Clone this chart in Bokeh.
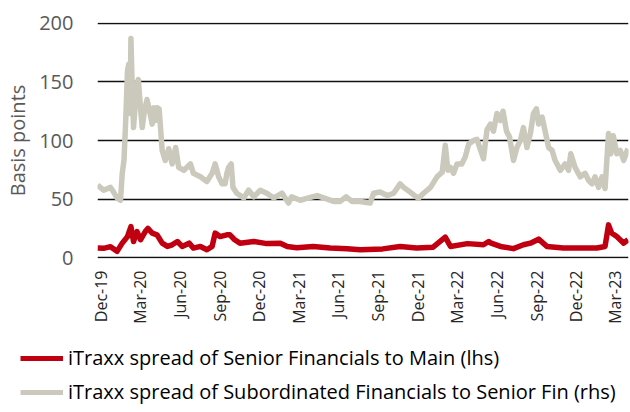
import pandas as pd
from bokeh.plotting import figure
from bokeh.layouts import column
from bokeh.models import Legend, LegendItem, FixedTicker, Range1d, DatetimeTickFormatter
from bokeh.embed import file_html
from bokeh.resources import INLINE

# Subordinated Financials to Senior Fin spread (rhs), bp
sub_dates = [
    "2019-11-24", "2019-12-08", "2019-12-24", "2019-12-31", "2020-01-08", "2020-01-16",
    "2020-01-20", "2020-01-24", "2020-01-28", "2020-02-01", "2020-02-04", "2020-02-07",
    "2020-02-09", "2020-02-12", "2020-02-15", "2020-02-19", "2020-02-23", "2020-02-26",
    "2020-03-02", "2020-03-06", "2020-03-11", "2020-03-17", "2020-03-23", "2020-03-29",
    "2020-04-01", "2020-04-05", "2020-04-09", "2020-04-14", "2020-04-21", "2020-04-28",
    "2020-05-06", "2020-05-14", "2020-05-22", "2020-05-29", "2020-06-10", "2020-06-25",
    "2020-07-02", "2020-07-18", "2020-08-02", "2020-08-14", "2020-08-21", "2020-08-29",
    "2020-09-06", "2020-09-13", "2020-09-17", "2020-09-21", "2020-09-27", "2020-10-01",
    "2020-10-10", "2020-10-26", "2020-11-06", "2020-11-18", "2020-12-03", "2020-12-18",
    "2021-01-03", "2021-01-22", "2021-02-06", "2021-02-13", "2021-03-05", "2021-03-24",
    "2021-04-13", "2021-04-28", "2021-05-21", "2021-06-05", "2021-06-19", "2021-07-02",
    "2021-07-21", "2021-08-13", "2021-08-21", "2021-09-05", "2021-09-21", "2021-10-06",
    "2021-10-21", "2021-10-29", "2021-11-13", "2021-12-02", "2021-12-14", "2021-12-30",
    "2022-01-14", "2022-01-26", "2022-02-02", "2022-02-08", "2022-02-14", "2022-02-21",
    "2022-03-01", "2022-03-12", "2022-03-20", "2022-03-28", "2022-04-08", "2022-04-16",
    "2022-04-24", "2022-05-01", "2022-05-09", "2022-05-17", "2022-05-24", "2022-06-01",
    "2022-06-09", "2022-06-15", "2022-06-23", "2022-06-30", "2022-07-09", "2022-07-17",
    "2022-07-25", "2022-08-01", "2022-08-09", "2022-08-17", "2022-08-24", "2022-08-31",
    "2022-09-05", "2022-09-13", "2022-09-20", "2022-09-28", "2022-10-06", "2022-10-13",
    "2022-10-25", "2022-11-05", "2022-11-13", "2022-11-18", "2022-11-28", "2022-12-10",
    "2022-12-21", "2022-12-29", "2023-01-06", "2023-01-13", "2023-01-21", "2023-01-29",
    "2023-02-05", "2023-02-13", "2023-02-18", "2023-02-24", "2023-03-04", "2023-03-12",
    "2023-03-20", "2023-03-28", "2023-03-30",
]
sub_values = [
    62, 57.6, 60, 56, 51, 49,
    72, 83, 117, 159, 165, 123,
    187, 145, 111, 131, 148, 152,
    128, 111, 125, 135, 125, 114,
    128, 117, 128, 127, 91.5, 83,
    93, 80, 94, 77, 74.6, 80,
    72, 69, 65, 72, 80, 69,
    63, 63, 72, 77, 80, 60,
    55, 51, 57.6, 52, 57.6, 55,
    51, 55, 46.6, 52, 49, 51,
    53, 51, 48, 48, 52, 48,
    48, 46.6, 55, 56, 53, 55,
    63, 60, 56, 50.6, 55, 60,
    69, 73, 96, 74.6, 77, 72,
    80, 80, 86, 97, 100, 101,
    92, 84.5, 109, 114, 108, 123,
    117, 125, 108, 103, 83, 94,
    100, 111, 94, 106, 123, 127,
    114, 120, 108, 94, 91.5, 83,
    74.6, 80, 74.6, 88.7, 77, 69,
    72, 66, 63, 69, 60, 69,
    59, 106, 88.7, 104, 88.7, 91.5,
    83, 91.5, 93,
]

# Senior Financials to Main spread (lhs), bp
sen_dates = [
    "2019-11-24", "2019-12-08", "2019-12-24", "2020-01-08", "2020-01-20", "2020-02-01",
    "2020-02-09", "2020-02-15", "2020-02-23", "2020-03-02", "2020-03-13", "2020-03-19",
    "2020-03-29", "2020-04-09", "2020-04-21", "2020-05-03", "2020-05-14", "2020-05-26",
    "2020-06-06", "2020-06-22", "2020-07-02", "2020-07-18", "2020-08-02", "2020-08-14",
    "2020-08-21", "2020-09-01", "2020-09-17", "2020-09-24", "2020-10-05", "2020-10-17",
    "2020-11-18", "2020-12-18", "2021-01-18", "2021-02-03", "2021-02-25", "2021-04-04",
    "2021-05-13", "2021-06-21", "2021-07-21", "2021-09-11", "2021-10-21", "2021-11-28",
    "2022-01-05", "2022-02-02", "2022-02-14", "2022-03-25", "2022-05-01", "2022-05-13",
    "2022-05-17", "2022-06-09", "2022-07-09", "2022-08-01", "2022-08-17", "2022-09-05",
    "2022-09-24", "2022-11-01", "2022-12-10", "2023-01-17", "2023-02-05", "2023-02-13",
    "2023-02-20", "2023-03-04", "2023-03-20", "2023-03-30",
]
sen_values = [
    8.2, 8, 9.4, 5.4, 12.4, 18,
    26.5, 13.8, 22.3, 15.3, 22.3, 25,
    21, 19.5, 12.4, 9.6, 11, 13.8,
    9.6, 12.4, 8.2, 9.6, 6.8, 9.6,
    21, 18, 19.5, 19.5, 15.3, 12.4,
    13.8, 12, 12.4, 9.6, 8.5, 9.6,
    8.2, 7.7, 6.8, 7.5, 9.6, 8.2,
    9, 17.5, 9.6, 12, 11, 13.8,
    12.7, 9.6, 7.7, 11, 12.4, 15.8,
    9.6, 8.2, 8.2, 8.2, 9.6, 28,
    21, 18, 12.4, 15.3,
]

tick_dates = ["2019-12-01", "2020-03-01", "2020-06-01", "2020-09-01", "2020-12-01",
              "2021-03-01", "2021-06-01", "2021-09-01", "2021-12-01", "2022-03-01",
              "2022-06-01", "2022-09-01", "2022-12-01", "2023-03-01"]
y_ticks = [0, 50, 100, 150, 200]
legend_labels = ["iTraxx spread of Senior Financials to Main (lhs)",
                 "iTraxx spread of Subordinated Financials to Senior Fin (rhs)"]

RED = "#C00010"
GREY = "#CBC9BC"
FONT = "Open Sans"

sd = pd.to_datetime(sub_dates)
nd = pd.to_datetime(sen_dates)
td = pd.to_datetime(tick_dates)

p = figure(width=630, height=335, x_axis_type="datetime", output_backend="svg",
           toolbar_location=None,
           x_range=Range1d(pd.Timestamp("2019-11-24"), pd.Timestamp("2023-03-31")),
           y_range=Range1d(-0.7, 200.7))
p.frame_align = False
p.min_border_left = 97
p.min_border_right = 2
p.min_border_top = 22
p.min_border_bottom = 77
p.outline_line_color = None
p.background_fill_color = "white"
p.border_fill_color = "white"

p.line(sd, sub_values, line_color=GREY, line_width=5.5, line_join="round")
p.line(nd, sen_values, line_color=RED, line_width=5.5, line_join="round")

# x axis
p.xaxis.ticker = FixedTicker(ticks=[t.value / 1e6 for t in td])
p.xaxis.formatter = DatetimeTickFormatter(days="%b-%y", months="%b-%y", years="%b-%y")
p.xaxis.major_label_orientation = 1.5708
p.xaxis.axis_line_color = None
p.xaxis.major_tick_line_color = None
p.xaxis.minor_tick_line_color = None
p.xaxis.major_tick_out = 0
p.xaxis.major_tick_in = 0
p.xaxis.minor_tick_out = 0
p.xaxis.major_label_text_font = FONT
p.xaxis.major_label_text_font_size = "16px"
p.xaxis.major_label_text_color = "#262626"
p.xaxis.major_label_standoff = 12
p.xgrid.grid_line_color = None

# y axis
p.yaxis.ticker = FixedTicker(ticks=y_ticks)
p.yaxis.axis_line_color = None
p.yaxis.major_tick_line_color = None
p.yaxis.minor_tick_line_color = None
p.yaxis.major_tick_out = 0
p.yaxis.major_tick_in = 0
p.yaxis.minor_tick_out = 0
p.yaxis.major_label_text_font = FONT
p.yaxis.major_label_text_font_size = "20px"
p.yaxis.major_label_text_color = "#595959"
p.yaxis.major_label_standoff = 24
p.yaxis.axis_label = "Basis points"
p.yaxis.axis_label_text_font = FONT
p.yaxis.axis_label_text_font_size = "20px"
p.yaxis.axis_label_text_font_style = "normal"
p.yaxis.axis_label_text_color = "#595959"
p.yaxis.axis_label_standoff = 5
p.ygrid.grid_line_color = "#111111"
p.ygrid.grid_line_width = 1.5

# legend strip below the chart (its own unaligned frame)
lg = figure(width=630, height=77, output_backend="svg", toolbar_location=None,
            x_range=Range1d(0, 1), y_range=Range1d(0, 1))
lg.frame_align = False
lg.min_border_left = 0
lg.min_border_right = 0
lg.min_border_top = 0
lg.min_border_bottom = 0
lg.outline_line_color = None
lg.axis.visible = False
lg.grid.visible = False
# key renderers: same styles as the chart lines, kept outside the visible range
k_sen = lg.line([0, 1], [-5, -5], line_color=RED, line_width=5)
k_sub = lg.line([0, 1], [-5, -5], line_color=GREY, line_width=5)

legend = Legend(items=[
    LegendItem(label=legend_labels[0], renderers=[k_sen]),
    LegendItem(label=legend_labels[1], renderers=[k_sub]),
], location=(20, 7))
legend.background_fill_alpha = 0
legend.border_line_color = None
legend.label_text_font = FONT
legend.label_text_font_size = "20px"
legend.label_text_color = "#000000"
legend.glyph_width = 43
legend.glyph_height = 26
legend.label_height = 26
legend.spacing = 7
legend.padding = 0
legend.margin = 0
legend.label_standoff = 5
lg.add_layout(legend, "center")

layout = column(p, lg, spacing=0)
open("out.html", "w").write(file_html(layout, INLINE))
